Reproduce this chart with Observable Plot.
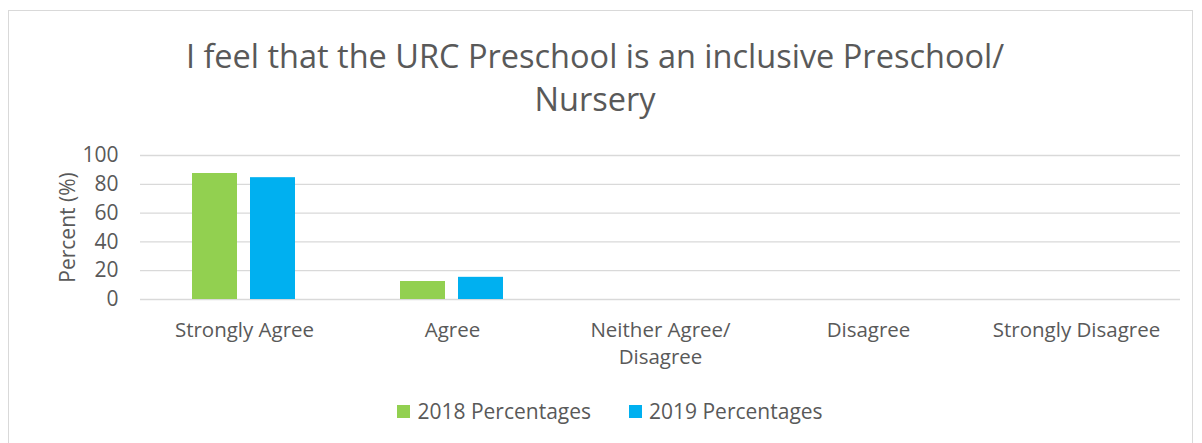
<!DOCTYPE html>
<html>
<head>
<meta charset="utf-8">
<script src="https://cdn.jsdelivr.net/npm/d3@7"></script>
<script src="https://cdn.jsdelivr.net/npm/@observablehq/plot@0.6"></script>
<style>
  body { margin: 0; background: #fff; font-family: "Open Sans", sans-serif; }
  #wrap { position: relative; width: 1202px; height: 443px; overflow: hidden; }
  #frame { position: absolute; left: 8px; top: 10px; width: 1185px; height: 440px; border: 1px solid #d9d9d9; box-sizing: border-box; }
  #title { position: absolute; left: 0; top: 34px; width: 1190px; text-align: center; font-size: 32.5px; color: #595959; line-height: 43px; white-space: nowrap; }
  #chart { position: absolute; left: 0; top: 140px; }
  #legend { position: absolute; left: 0; top: 397px; width: 1220px; display: flex; justify-content: center; gap: 38px; font-size: 21px; color: #595959; }
  .item { display: flex; align-items: center; gap: 7px; }
  .sw { width: 13px; height: 13px; display: inline-block; }
</style>
</head>
<body>
<div id="wrap">
  <div id="frame"></div>
  <div id="title">I feel that the URC Preschool is an inclusive Preschool/<br>Nursery</div>
  <div id="chart"></div>
  <div id="legend"></div>
</div>
<script>
const categories = ["Strongly Agree", "Agree", "Neither Agree/\nDisagree", "Disagree", "Strongly Disagree"];
const seriesNames = ["2018 Percentages", "2019 Percentages"];
const values2018 = [87.5, 12.5, 0, 0, 0];
const values2019 = [84.6, 15.4, 0, 0, 0];
const colors = ["#92D050", "#00B0F0"];
const yTicks = [0, 20, 40, 60, 80, 100];

const data = [];
categories.forEach((c, i) => {
  data.push({category: c, series: seriesNames[0], value: values2018[i]});
  data.push({category: c, series: seriesNames[1], value: values2019[i]});
});

const chart = Plot.plot({
  width: 1202,
  height: 235,
  marginLeft: 140,
  marginRight: 22,
  marginTop: 15,
  marginBottom: 76,
  style: { fontFamily: "'Open Sans', sans-serif", fontSize: "20px", color: "#595959", background: "transparent" },
  fx: { domain: categories, padding: 0, label: null, axis: null },
  x: { domain: seriesNames, paddingInner: 0.22, paddingOuter: 0.873, axis: null },
  y: { domain: [0, 100], axis: null },
  color: { domain: seriesNames, range: colors },
  marks: [
    Plot.ruleY(yTicks, { stroke: "#d9d9d9", strokeWidth: 1.3 }),
    Plot.barY(data, { fx: "category", x: "series", y: "value", fill: "series" }),
    Plot.axisFx({ anchor: "bottom", domain: categories, tickSize: 0, tickPadding: 18, label: null, fontSize: 20.5, lineHeight: 1.32, fill: "#595959" }),
    Plot.axisY(yTicks, { anchor: "left", tickSize: 0, tickPadding: 22, fontSize: 21, fill: "#595959", label: "Percent (%)", labelAnchor: "center", labelArrow: "none", labelOffset: 80, facetAnchor: "left" })
  ]
});
document.getElementById("chart").appendChild(chart);

const legend = document.getElementById("legend");
seriesNames.forEach((s, i) => {
  const item = document.createElement("div");
  item.className = "item";
  const sw = document.createElement("span");
  sw.className = "sw";
  sw.style.background = colors[i];
  const t = document.createElement("span");
  t.textContent = s;
  item.appendChild(sw);
  item.appendChild(t);
  legend.appendChild(item);
});
</script>
</body>
</html>
